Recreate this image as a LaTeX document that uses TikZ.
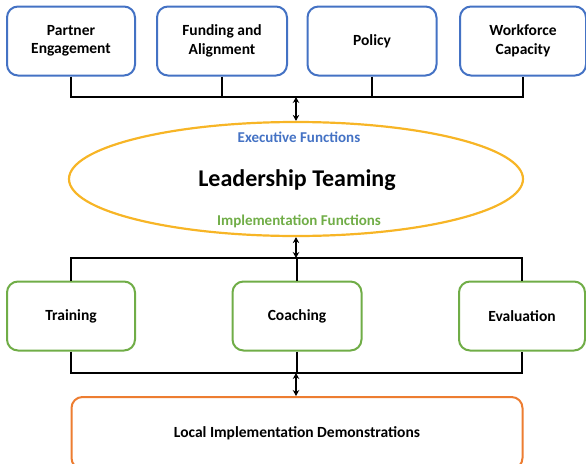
\documentclass[tikz,border=0pt]{standalone}
\usepackage{fontspec}
\setmainfont{Carlito}
\usetikzlibrary{shapes.geometric,arrows.meta,calc}

\definecolor{boxblue}{HTML}{4472C4}
\definecolor{boxgreen}{HTML}{70AD47}
\definecolor{boxorange}{HTML}{ED7D31}
\definecolor{ringgold}{HTML}{F7B526}

\begin{document}
\begin{tikzpicture}
    [x=1pt, y=-1pt,
    box/.style = {draw, rounded corners=11pt, line width=2pt, fill=white,
        minimum height=69pt, align=center, inner sep=2pt,
        font=\fontsize{15.5}{18.5}\selectfont\bfseries},
    exec/.style = {box, draw=boxblue},
    impl/.style = {box, draw=boxgreen},
    conn/.style = {line width=2.6pt, black},
    link/.style = {line width=1.6pt, {Stealth[length=6pt,width=6.5pt]}-{Stealth[length=6pt,width=6.5pt]}}
    ]
    \useasboundingbox (0,0) rectangle (586,463);
    \clip (0,0) rectangle (586,463);

    % executive functions
    \node (partner) [exec, minimum width=128pt] at (71,41) {Partner\\Engagement};
    \node (funding) [exec, minimum width=130pt] at (222,41) {Funding and\\Alignment};
    \node (policy) [exec, minimum width=129pt] at (372,41) {Policy};
    \node (workforce) [exec, minimum width=126pt] at (523,41) {Workforce\\Capacity};

    % leadership
    \node (lead) [draw=ringgold, line width=2.2pt, ellipse, minimum width=454pt,
        minimum height=114pt, inner sep=0pt] at (296,179) {};
    \node (leadtext) [font=\fontsize{24}{28}\selectfont\bfseries] at (297,180) {Leadership Teaming};
    \node (exectext) [text=boxblue, font=\fontsize{15}{17}\selectfont\bfseries] at (299,137) {Executive Functions};
    \node (impltext) [text=boxgreen, font=\fontsize{15}{17}\selectfont\bfseries] at (299,221) {Implementation Functions};

    % implementation functions
    \node (training) [impl, minimum width=128pt] at (71,316) {Training};
    \node (coaching) [impl, minimum width=129pt] at (297,316) {Coaching};
    \node (evaluation) [impl, minimum width=126pt] at (522,316) {Evaluation};

    \node (local) [box, draw=boxorange, minimum width=451pt, minimum height=72pt] at (297,433) {Local Implementation Demonstrations};

    \coordinate (topbus) at (296,97);
    \coordinate (midbus) at (296,258);
    \coordinate (lowbus) at (296,373);

    \draw[conn] (partner.south) |- (topbus) -| (workforce.south);
    \draw[conn] (funding.south) -- (funding.south |- topbus);
    \draw[conn] (policy.south) -- (policy.south |- topbus);
    \draw[link] (topbus) -- (lead.north);

    \draw[conn] (training.north) |- (midbus) -| (evaluation.north);
    \draw[conn] (coaching.north) -- (coaching.north |- midbus);
    \draw[link] (lead.south) -- (midbus);

    \draw[conn] (training.south) |- (lowbus) -| (evaluation.south);
    \draw[conn] (coaching.south) -- (coaching.south |- lowbus);
    \draw[link] (lowbus) -- (local.north -| lowbus);
\end{tikzpicture}
\end{document}
